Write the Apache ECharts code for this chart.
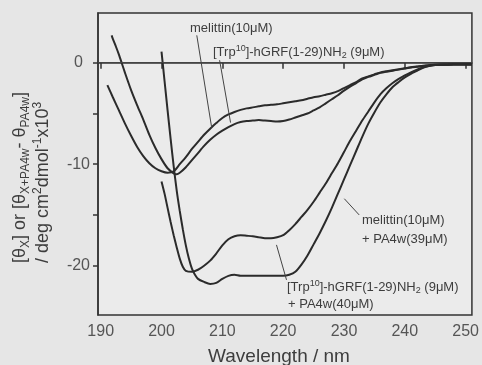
<!DOCTYPE html>
<html>
<head>
<meta charset="utf-8">
<script src="https://cdn.jsdelivr.net/npm/echarts@6/dist/echarts.min.js"></script>
<style>
  html, body { margin: 0; padding: 0; background: #e6e6e6; }
  #chart { width: 482px; height: 365px; }
</style>
</head>
<body>
<div id="chart"></div>
<script>
// Axis ticks and labelled values
const xTicks = [190, 200, 210, 220, 230, 240, 250];
const yTicks = [-20, -15, -10, -5, 0];
const yLabelValues = [-20, -10, 0];

// CD spectra: [wavelength (nm), mean residue ellipticity (x10^3 deg cm2 dmol-1)]
const melittin = [
  [191.1, -2.2], [192, -3.4], [193, -4.7], [194, -6.0], [195, -7.2], [196, -8.3], [197, -9.2],
  [198, -9.9], [199, -10.4], [200, -10.7], [201, -10.85], [202, -10.7], [203, -10.0], [204, -9.3],
  [205, -8.5], [206, -7.8], [207, -7.1], [208, -6.5], [209, -5.95], [210, -5.45], [211, -5.1],
  [212, -4.85], [213, -4.65], [214, -4.5], [215, -4.4], [216, -4.3], [217, -4.2], [218, -4.15],
  [219, -4.1], [220, -4.0], [221, -3.9], [222, -3.8], [223, -3.7], [224, -3.55], [225, -3.4],
  [226, -3.3], [227, -3.15], [228, -3.0], [229, -2.8], [230, -2.5], [231, -2.2], [232, -1.9],
  [233, -1.55], [234, -1.35], [235, -1.15], [236, -0.95], [237, -0.85], [238, -0.75], [239, -0.65],
  [240, -0.55], [241, -0.45], [242, -0.38], [243, -0.3], [244, -0.25], [245, -0.2], [246, -0.18],
  [248, -0.16], [251, -0.15]
];

const trpGrf = [
  [191.8, 2.7], [192, 2.35], [192.5, 1.6], [193, 0.8], [193.5, -0.1], [194, -1.0], [195, -2.7],
  [196, -4.2], [197, -5.6], [198, -7.1], [199, -8.4], [200, -9.5], [201, -10.4], [202, -10.9],
  [202.5, -11.0], [203, -10.85], [204, -10.3], [205, -9.6], [206, -8.9], [207, -8.2], [208, -7.6],
  [209, -7.1], [210, -6.7], [211, -6.35], [212, -6.05], [213, -5.85], [214, -5.75], [215, -5.7],
  [216, -5.65], [217, -5.7], [218, -5.75], [219, -5.8], [220, -5.75], [221, -5.6], [222, -5.4],
  [223, -5.2], [224, -5.0], [225, -4.7], [226, -4.4], [227, -4.0], [228, -3.6], [229, -3.2],
  [230, -2.75], [231, -2.35], [232, -2.0], [233, -1.65], [234, -1.4], [235, -1.2], [236, -1.0],
  [237, -0.88], [238, -0.78], [239, -0.68], [240, -0.58], [241, -0.48], [242, -0.4], [243, -0.32],
  [244, -0.26], [245, -0.21], [246, -0.19], [248, -0.16], [251, -0.15]
];

const melittinPA4w = [
  [200.0, 1.1], [200.5, -1.8], [201, -4.7], [201.5, -7.5], [202, -10.2], [202.5, -12.6],
  [203, -14.6], [203.5, -16.4], [204, -18.0], [204.5, -19.3], [205, -20.3], [205.5, -20.9],
  [206, -21.3], [207, -21.6], [208, -21.8], [209, -21.7], [210, -21.3], [211, -21.0], [212, -20.9],
  [213, -21.0], [214, -21.0], [216, -21.0], [218, -21.0], [220, -21.0], [221, -20.9], [222, -20.6],
  [223, -19.9], [224, -19.0], [225, -17.9], [226, -16.8], [227, -15.6], [228, -14.3], [229, -12.9],
  [230, -11.5], [231, -10.1], [232, -8.7], [233, -7.3], [234, -6.0], [235, -4.9], [236, -3.9],
  [237, -3.1], [238, -2.4], [239, -1.9], [240, -1.45], [241, -1.1], [242, -0.8], [243, -0.5],
  [244, -0.32], [245, -0.23], [246, -0.2], [248, -0.18], [251, -0.17]
];

const trpGrfPA4w = [
  [200.0, -11.7], [200.5, -12.9], [201, -14.3], [201.5, -15.7], [202, -17.0], [202.5, -18.2],
  [203, -19.3], [203.5, -20.1], [204, -20.5], [205, -20.6], [206, -20.4], [207, -20.0],
  [208, -19.5], [209, -18.8], [210, -18.0], [211, -17.4], [212, -17.1], [213, -17.0],
  [214, -17.05], [215, -17.1], [216, -17.2], [217, -17.3], [218, -17.3], [219, -17.2],
  [220, -17.0], [221, -16.5], [222, -15.9], [223, -15.2], [224, -14.5], [225, -13.7],
  [226, -12.8], [227, -11.9], [228, -10.9], [229, -9.9], [230, -8.8], [231, -7.7], [232, -6.7],
  [233, -5.7], [234, -4.8], [235, -3.9], [236, -3.1], [237, -2.5], [238, -2.0], [239, -1.6],
  [240, -1.25], [241, -0.95], [242, -0.68], [243, -0.45], [244, -0.3], [245, -0.22], [246, -0.2],
  [248, -0.18], [251, -0.17]
];

// Leader lines from each caption to its curve, in data units
const melittinPointer = [[205.8, 2.7], [208.25, -6.4]];
const trpGrfPointer = [[209.55, 0.25], [211.35, -5.9]];
const melittinPA4wPointer = [[232.5, -15.0], [230.05, -13.4]];
const trpGrfPA4wPointer = [[220.55, -21.4], [218.9, -17.95]];

const FONT = '"Liberation Sans", Arial, Helvetica, sans-serif';
const INK = '#2b2b2b';
const TEXT = '#3d3d3d';

function leader(pts) {
  return [{ coord: pts[0] }, { coord: pts[1] }];
}

function curve(name, data, pointer, extraLines) {
  const lines = [leader(pointer)].concat(extraLines || []);
  return {
    name: name,
    type: 'line',
    data: data,
    symbol: 'none',
    smooth: 0.25,
    silent: true,
    z: 3,
    lineStyle: { color: INK, width: 2 },
    markLine: {
      silent: true,
      symbol: ['none', 'none'],
      label: { show: false },
      lineStyle: { color: '#444', width: 1, type: 'solid' },
      emphasis: { disabled: true },
      data: lines
    }
  };
}

const chart = echarts.init(document.getElementById('chart'), null, { renderer: 'canvas' });

const subStyle = { fontSize: 12, lineHeight: 12, verticalAlign: 'bottom', fontFamily: FONT, color: TEXT };
const supStyle = { fontSize: 12, lineHeight: 12, verticalAlign: 'top', fontFamily: FONT, color: TEXT };
const capSup = { fontSize: 9, lineHeight: 9, verticalAlign: 'top', fontFamily: FONT, color: TEXT };
const capSub = { fontSize: 9, lineHeight: 9, verticalAlign: 'bottom', fontFamily: FONT, color: TEXT };

function caption(x, y, text) {
  return {
    type: 'text', x: x, y: y, silent: true, z: 10,
    style: {
      text: text, fill: TEXT, font: '13px ' + FONT,
      align: 'left', verticalAlign: 'middle',
      lineHeight: 16,
      rich: {
        sup: capSup,
        sub: capSub,
        n: { fontSize: 13, lineHeight: 16, fontFamily: FONT, color: TEXT }
      }
    }
  };
}

const trpText = '{n|[Trp}{sup|10}{n|]-hGRF(1-29)NH}{sub|2}{n| (9μM)}';

// Horizontal reference line at zero ellipticity
const zeroLine = { yAxis: 0, lineStyle: { color: '#444', width: 1 } };

chart.setOption({
  backgroundColor: '#e6e6e6',
  animation: false,
  grid: {
    left: 98, right: 9, top: 13, bottom: 50,
    show: true, backgroundColor: '#ebebeb',
    borderColor: '#333', borderWidth: 1.5
  },
  xAxis: {
    type: 'value', min: 189.56, max: 251.03,
    axisLine: { show: true, lineStyle: { color: '#333', width: 1.5 } },
    axisTick: { show: true, inside: false, length: 6, customValues: xTicks, lineStyle: { color: '#333', width: 1.5 } },
    axisLabel: { customValues: xTicks, fontSize: 16, color: '#555', fontFamily: FONT, margin: 9 },
    splitLine: { show: false }
  },
  yAxis: {
    type: 'value', min: -24.86, max: 4.9,
    axisLine: { show: true, lineStyle: { color: '#333', width: 1.5 } },
    axisTick: { show: true, inside: false, length: 5, customValues: yTicks, lineStyle: { color: '#333', width: 1.5 } },
    axisLabel: {
      customValues: yLabelValues, fontSize: 16, color: '#555', fontFamily: FONT, margin: 8,
      formatter: function (v) { return v === 0 ? '{z|0}' : String(v); },
      rich: { z: { fontSize: 16, color: '#555', fontFamily: FONT, padding: [0, 7, 0, 0] } }
    },
    splitLine: { show: false }
  },
  graphic: [
    {
      type: 'text', x: 31.5, y: 263, rotation: Math.PI / 2, silent: true,
      style: {
        text: '[θ{sub|X}] or [θ{sub|X+PA4w}- θ{sub|PA4w}]\n/ deg cm{sup|2}dmol{sup|-1}x10{sup|3}',
        fill: TEXT, font: '18px ' + FONT, lineHeight: 23,
        align: 'left', verticalAlign: 'middle',
        rich: { sub: subStyle, sup: supStyle }
      }
    },
    {
      type: 'text', x: 279, y: 357, silent: true,
      style: { text: 'Wavelength / nm', fill: TEXT, font: '19px ' + FONT, align: 'center', verticalAlign: 'middle' }
    },
    caption(190, 28, '{n|melittin(10μM)}'),
    caption(213, 52, trpText),
    caption(362, 220, '{n|melittin(10μM)}'),
    caption(362, 239, '{n|+ PA4w(39μM)}'),
    caption(287, 287, trpText),
    caption(288, 304, '{n|+ PA4w(40μM)}')
  ],
  series: [
    curve('melittin (10 μM)', melittin, melittinPointer, [zeroLine]),
    curve('[Trp10]-hGRF(1-29)NH2 (9 μM)', trpGrf, trpGrfPointer),
    curve('melittin (10 μM) + PA4w (39 μM)', melittinPA4w, melittinPA4wPointer),
    curve('[Trp10]-hGRF(1-29)NH2 (9 μM) + PA4w (40 μM)', trpGrfPA4w, trpGrfPA4wPointer)
  ]
});
</script>
</body>
</html>
